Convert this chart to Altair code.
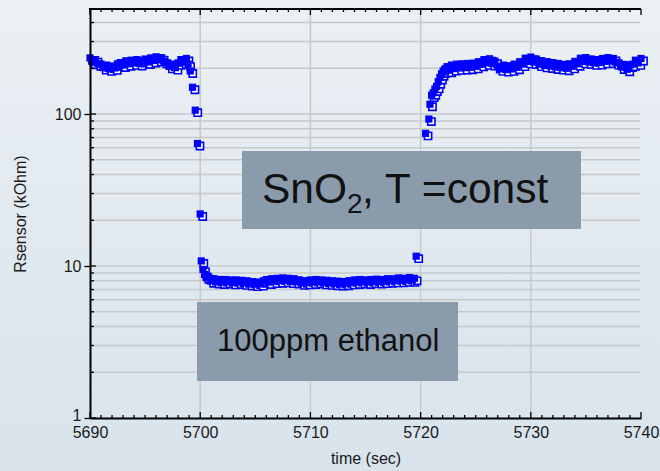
import altair as alt
import pandas as pd

# ---- data (time in s, resistance in kOhm) ----
pre_t = [5690.0, 5690.25, 5690.5, 5690.75, 5691.0, 5691.25, 5691.5, 5691.75, 5692.0, 5692.25,
         5692.5, 5692.75, 5693.0, 5693.25, 5693.5, 5693.75, 5694.0, 5694.25, 5694.5, 5694.75,
         5695.0, 5695.25, 5695.5, 5695.75, 5696.0, 5696.25, 5696.5, 5696.75, 5697.0, 5697.25,
         5697.5, 5697.75, 5698.0, 5698.25, 5698.5, 5698.75, 5698.9]
pre_r = [234, 219, 228, 214, 213, 202, 210, 198, 207, 201,
         214, 218, 210, 224, 214, 226, 217, 228, 215, 225,
         230, 220, 234, 225, 238, 228, 235, 222, 217, 206,
         213, 202, 217, 228, 220, 232, 213]

drop_t = [5699.1, 5699.3, 5699.55, 5699.75, 5700.0, 5700.1, 5700.25, 5700.4, 5700.55]
drop_r = [192, 150, 106, 64, 22, 10.8, 9.5, 8.8, 8.5]

plat_t = [5700.75, 5701.0, 5701.25, 5701.5, 5701.75, 5702.0, 5702.25, 5702.5, 5702.75, 5703.0,
          5703.25, 5703.5, 5703.75, 5704.0, 5704.25, 5704.5, 5704.75, 5705.0, 5705.25, 5705.5,
          5705.75, 5706.0, 5706.25, 5706.5, 5706.75, 5707.0, 5707.25, 5707.5, 5707.75, 5708.0,
          5708.25, 5708.5, 5708.75, 5709.0, 5709.25, 5709.5, 5709.75, 5710.0, 5710.25, 5710.5,
          5710.75, 5711.0, 5711.25, 5711.5, 5711.75, 5712.0, 5712.25, 5712.5, 5712.75, 5713.0,
          5713.25, 5713.5, 5713.75, 5714.0, 5714.25, 5714.5, 5714.75, 5715.0, 5715.25, 5715.5,
          5715.75, 5716.0, 5716.25, 5716.5, 5716.75, 5717.0, 5717.25, 5717.5, 5717.75, 5718.0,
          5718.25, 5718.5, 5718.75, 5719.0, 5719.25, 5719.45]
plat_r = [8.4, 8.0, 8.25, 7.9, 8.15, 7.85, 8.15, 7.9, 8.1, 7.8,
          8.1, 7.85, 8.05, 7.75, 8.0, 7.65, 7.9, 7.6, 7.85, 7.65,
          8.0, 8.15, 7.85, 8.25, 7.95, 8.3, 8.0, 8.35, 8.05, 8.3,
          7.95, 8.25, 7.9, 8.1, 7.75, 8.0, 7.8, 8.1, 7.85, 8.15,
          7.9, 8.1, 7.8, 8.05, 7.75, 8.0, 7.7, 7.95, 7.65, 7.9,
          7.7, 8.0, 7.8, 8.1, 7.85, 8.15, 7.9, 8.1, 7.85, 8.15,
          7.95, 8.2, 7.9, 8.15, 7.95, 8.25, 8.0, 8.25, 8.05, 8.35,
          8.05, 8.3, 8.1, 8.4, 8.1, 8.3]

rise_t = [5719.6, 5720.45, 5720.75, 5720.85, 5721.0, 5721.15, 5721.3, 5721.45, 5721.6, 5721.75,
          5721.9, 5722.05, 5722.2]
rise_r = [11.6, 74.6, 92.7, 116, 133, 138, 146, 152, 163, 174,
          184, 192, 198]

post_t = [5722.4, 5722.6, 5722.8, 5723.0, 5723.25, 5723.5, 5723.75, 5724.0, 5724.25, 5724.5,
          5724.75, 5725.0, 5725.25, 5725.5, 5725.75, 5726.0, 5726.25, 5726.5, 5726.75, 5727.0,
          5727.25, 5727.5, 5727.75, 5728.0, 5728.25, 5728.5, 5728.75, 5729.0, 5729.25, 5729.5,
          5729.75, 5730.0, 5730.25, 5730.5, 5730.75, 5731.0, 5731.25, 5731.5, 5731.75, 5732.0,
          5732.25, 5732.5, 5732.75, 5733.0, 5733.25, 5733.5, 5733.75, 5734.0, 5734.25, 5734.5,
          5734.75, 5735.0, 5735.25, 5735.5, 5735.75, 5736.0, 5736.25, 5736.5, 5736.75, 5737.0,
          5737.25, 5737.5, 5737.75, 5738.0, 5738.25, 5738.5, 5738.75, 5739.0, 5739.25, 5739.5,
          5739.75, 5740.0]
post_r = [205, 194, 210, 199, 213, 201, 214, 202, 215, 203,
          216, 206, 221, 212, 228, 217, 231, 215, 223, 205,
          198, 210, 196, 208, 198, 213, 203, 221, 213, 233,
          222, 237, 220, 230, 213, 224, 209, 221, 207, 218,
          204, 215, 202, 212, 200, 214, 206, 222, 214, 233,
          222, 235, 220, 230, 217, 228, 218, 232, 222, 235,
          223, 232, 218, 217, 204, 212, 197, 210, 213, 226,
          217, 232]

x_major = [5690, 5700, 5710, 5720, 5730, 5740]
x_grid = [5700, 5710, 5720, 5730]
y_labels = [1, 10, 100]
y_grid = [2, 3, 4, 5, 6, 7, 8, 9, 10, 20, 30, 40, 50, 60, 70, 80, 90, 100, 200, 300, 400]

W, H = 551, 409
XS = alt.Scale(domain=[5690, 5740], nice=False, zero=False)
YS = alt.Scale(type="log", domain=[1, 491], nice=False)
BLUE = "#0000ff"
BOX = "#8a9cab"
TXT = "#111111"

df = pd.DataFrame({
    "t": pre_t + drop_t + plat_t + rise_t + post_t,
    "r": pre_r + drop_r + plat_r + rise_r + post_r,
})
x_minor = [t for t in range(5691, 5740) if t not in x_major]
y_minor = [v for v in y_grid if v not in y_labels]
one = pd.DataFrame({"a": [0]})

# background gradient
bg = alt.Chart(one).mark_rect(
    fill={"gradient": "linear", "x1": 0, "x2": 0, "y1": 0, "y2": 1,
          "stops": [{"offset": 0, "color": "#ebf0f4"}, {"offset": 1, "color": "#d8e3eb"}]},
    clip=False,
).encode(x=alt.value(-90), x2=alt.value(570), y=alt.value(-9), y2=alt.value(462))

vgrid = alt.Chart(pd.DataFrame({"t": x_grid})).mark_rule(color="#c6c8ca", strokeWidth=1.5).encode(
    x=alt.X("t:Q", scale=XS), y=alt.value(0), y2=alt.value(H))
hgrid = alt.Chart(pd.DataFrame({"r": y_grid})).mark_rule(color="#c6c8ca", strokeWidth=1.5).encode(
    y=alt.Y("r:Q", scale=YS), x=alt.value(0), x2=alt.value(W - 1))

# markers: white-filled open square offset, filled square on top
pts_open = alt.Chart(df).mark_square(
    filled=True, fill="white", stroke=BLUE, strokeWidth=1.6, size=52, opacity=1,
    xOffset=2.5, yOffset=2.5).encode(
    x=alt.X("t:Q", scale=XS), y=alt.Y("r:Q", scale=YS))
pts_fill = alt.Chart(df).mark_square(filled=True, color=BLUE, size=52, opacity=1).encode(
    x=alt.X("t:Q", scale=XS), y=alt.Y("r:Q", scale=YS))

# annotation boxes
box1 = alt.Chart(one).mark_rect(fill=BOX).encode(
    x=alt.value(152), x2=alt.value(491), y=alt.value(142), y2=alt.value(220))
box2 = alt.Chart(one).mark_rect(fill=BOX).encode(
    x=alt.value(107), x2=alt.value(368), y=alt.value(293), y2=alt.value(372))
TF = "Liberation Sans"
t1a = alt.Chart(one).mark_text(text="SnO", font=TF, fontSize=42.5, align="left", baseline="alphabetic",
                                color=TXT).encode(x=alt.value(172), y=alt.value(194))
t1b = alt.Chart(one).mark_text(text="2", font=TF, fontSize=28, align="left", baseline="alphabetic",
                                color=TXT).encode(x=alt.value(257), y=alt.value(204))
t1c = alt.Chart(one).mark_text(text=", T =const", font=TF, fontSize=42.5, align="left", baseline="alphabetic",
                                color=TXT).encode(x=alt.value(272), y=alt.value(194))
t2 = alt.Chart(one).mark_text(text="100ppm ethanol", font=TF,
                              fontSize=31, align="left", baseline="alphabetic",
                              color=TXT).encode(x=alt.value(127), y=alt.value(342))

# frame and ticks
top_line = alt.Chart(one).mark_rule(color="black", strokeWidth=2).encode(
    x=alt.value(-1), x2=alt.value(W), y=alt.value(0))
bt_major = alt.Chart(pd.DataFrame({"t": x_major})).mark_rule(color="black", strokeWidth=1.3).encode(
    x=alt.X("t:Q", scale=XS), y=alt.value(H), y2=alt.value(H - 6))
bt_minor = alt.Chart(pd.DataFrame({"t": x_minor})).mark_rule(color="black", strokeWidth=1.3).encode(
    x=alt.X("t:Q", scale=XS), y=alt.value(H), y2=alt.value(H - 3))
tp_major = alt.Chart(pd.DataFrame({"t": x_major})).mark_rule(color="black", strokeWidth=1.3).encode(
    x=alt.X("t:Q", scale=XS), y=alt.value(0), y2=alt.value(6))
tp_minor = alt.Chart(pd.DataFrame({"t": x_minor})).mark_rule(color="black", strokeWidth=1.3).encode(
    x=alt.X("t:Q", scale=XS), y=alt.value(0), y2=alt.value(3))
lf_major = alt.Chart(pd.DataFrame({"r": y_labels})).mark_rule(color="black", strokeWidth=1.3).encode(
    y=alt.Y("r:Q", scale=YS), x=alt.value(0), x2=alt.value(6))
lf_minor = alt.Chart(pd.DataFrame({"r": y_minor})).mark_rule(color="black", strokeWidth=1.3).encode(
    y=alt.Y("r:Q", scale=YS), x=alt.value(0), x2=alt.value(4))

# axes carrier (invisible points)
axes = alt.Chart(df).mark_point(opacity=0).encode(
    x=alt.X("t:Q", scale=XS, axis=alt.Axis(values=x_major, format="d", ticks=False, labelPadding=6,
                                           labelFlush=False, labelOverlap=False, title="time (sec)",
                                           titlePadding=10, domainColor="black", domainWidth=2,
                                           grid=False, zindex=1)),
    y=alt.Y("r:Q", scale=YS, axis=alt.Axis(values=y_labels, format="d", tickSize=6, tickColor="black",
                                           tickWidth=1.3, labelPadding=3, title="Rsensor (kOhm)",
                                           labelOffset={"condition": {"test": "datum.value == 1", "value": -3},
                                                        "value": 0},
                                           titlePadding=26, domainColor="black", domainWidth=2,
                                           grid=False, zindex=1)),
)

chart = alt.layer(
    bg, vgrid, hgrid, pts_open, pts_fill, box1, box2, t1a, t1b, t1c, t2,
    top_line, bt_major, bt_minor, tp_major, tp_minor, lf_major, lf_minor, axes
).properties(
    width=W, height=H,
    padding={"left": 90, "top": 9, "right": 19, "bottom": 53},
    autosize=alt.AutoSizeParams(type="none"),
).configure_view(stroke=None).configure(background="#e2e9ef").configure_axis(
    labelFont="Liberation Sans", labelFontSize=16, labelColor="#1a1a1a",
    titleFont="Liberation Sans", titleFontSize=16, titleFontWeight="normal", titleColor="#1a1a1a",
)

chart.save("out.html", embed_options={"renderer": "svg", "actions": False})
